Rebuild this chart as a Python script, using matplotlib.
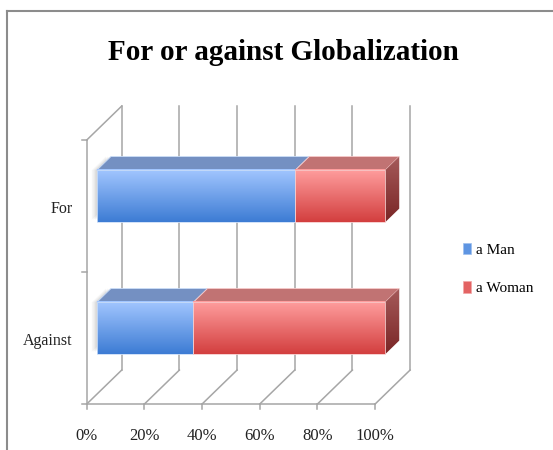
import numpy as np
import matplotlib
matplotlib.use("Agg")
import matplotlib.pyplot as plt
from matplotlib.patches import Polygon, Patch
from matplotlib.colors import to_rgb
from matplotlib.lines import Line2D

# Share of each group (percent of the answers in a category)
categories = ['Against', 'For']
man = [33.5, 68.8]
woman = [66.5, 31.2]
series_names = ['a Man', 'a Woman']
ticks = [0, 20, 40, 60, 80, 100]
tick_labels = ['0%', '20%', '40%', '60%', '80%', '100%']

SERIF = 'Liberation Serif'

fig = plt.figure(figsize=(5.53, 4.5), dpi=100)
ax = fig.add_axes([0, 0, 1, 1])
ax.set_axis_off()

# data space: x in percent, y in category units (0..2 = front wall height)
XLIM = (-30.07, 161.7)
YLIM = (-0.348, 3.061)

# depth of the 3d box (full wall) and where the bars sit inside it
DX, DY = 12.14, 0.2576
T0, T1 = 0.286, 0.69
HALF = 0.197
GRID = '#a6a6a6'


def off(x, y, t):
    return (x + DX * t, y + DY * t)


# back wall gridlines
for v in ticks:
    x0, y0 = off(v, 0, 1)
    x1, y1 = off(v, 2, 1)
    ax.plot([x0, x1], [y0, y1], color=GRID, lw=1.1, zorder=1)

# left wall
ax.plot([0, 0], [0, 2], color=GRID, lw=1.1, zorder=1)
ax.plot([0, DX], [2, 2 + DY], color=GRID, lw=1.1, zorder=1)
for k in range(3):
    ax.plot([-1.7, 0], [k, k], color=GRID, lw=1.1, zorder=1)

# floor
ax.plot([0, 100], [0, 0], color=GRID, lw=1.1, zorder=1)
for v in ticks:
    ax.plot([v, v + DX], [0, DY], color=GRID, lw=1.1, zorder=1)
    ax.plot([v, v], [0, -0.038], color=GRID, lw=1.1, zorder=1)


def gradient(extent, c_top, c_bot, clip=None, z=3):
    top = np.array(to_rgb(c_top))
    bot = np.array(to_rgb(c_bot))
    f = np.linspace(0, 1, 64)[:, None]
    img = (top * (1 - f) + bot * f)[:, None, :]
    im = ax.imshow(img, extent=extent, aspect='auto', origin='upper',
                   interpolation='bilinear', zorder=z)
    if clip is not None:
        im.set_clip_path(clip)
    return im


front_cols = {'a Man': ('#a2c6ff', '#3d7cd4'), 'a Woman': ('#ff9e9e', '#d33f3f')}
top_cols = {'a Man': '#7490c2', 'a Woman': '#c17373'}
side_cols = ('#a55a5a', '#7a2626')
edge_cols = {'a Man': '#c9dcf7', 'a Woman': '#f6c8c8'}

for i, cat in enumerate(categories):
    c = i + 0.5
    lo, hi = c - HALF, c + HALF
    segments = [('a Man', 0, man[i]), ('a Woman', man[i], man[i] + woman[i])]

    # soft shadow at the left end of the bar
    for k, a in enumerate([0.10, 0.08, 0.06]):
        s = 0.5 + k * 0.6
        pts = [off(-s, lo + 0.02, T0), off(-s, hi, T0),
               off(-s, hi, T1), off(-s, lo + 0.02, T1)]
        ax.add_patch(Polygon(pts, closed=True, facecolor='#606060',
                             edgecolor='none', alpha=a, zorder=2))

    for name, a, b in segments:
        # top face
        pts = [off(a, hi, T0), off(b, hi, T0), off(b, hi, T1), off(a, hi, T1)]
        ax.add_patch(Polygon(pts, closed=True, facecolor=top_cols[name],
                             edgecolor=edge_cols[name], lw=0.6, zorder=3))
        # front face
        fx0, fy0 = off(a, lo, T0)
        fx1, fy1 = off(b, hi, T0)
        gradient([fx0, fx1, fy0, fy1], *front_cols[name], z=4)
        ax.add_patch(Polygon([(fx0, fy0), (fx1, fy0), (fx1, fy1), (fx0, fy1)],
                             closed=True, facecolor='none',
                             edgecolor=edge_cols[name], lw=0.6, zorder=5))

    # right end face
    end = man[i] + woman[i]
    pts = [off(end, lo, T0), off(end, lo, T1), off(end, hi, T1), off(end, hi, T0)]
    poly = Polygon(pts, closed=True, facecolor='none', edgecolor='none', zorder=3)
    ax.add_patch(poly)
    ex0, ey0 = off(end, lo, T0)
    ex1, ey1 = off(end, hi, T1)
    gradient([ex0, ex1, ey0, ey1], side_cols[0], side_cols[1], clip=poly, z=3)

ax.set_xlim(*XLIM)
ax.set_ylim(*YLIM)

# value axis labels
for v, lab in zip(ticks, tick_labels):
    ax.text(v, -0.245, lab, ha='center', va='center', fontsize=12,
            family=SERIF, color='#222222')

# category labels
for i, cat in enumerate(categories):
    ax.text(-4.9, i + 0.48, cat, ha='right', va='center', fontsize=11.5,
            family=SERIF, color='#222222')

fig.text(0.512, 1 - 53 / 450, 'For or against Globalization', ha='center',
         va='center', fontsize=21, fontweight='bold', family=SERIF)

handles = [Patch(facecolor='#5e95e2', edgecolor='#9fc0ee', lw=0.5),
           Patch(facecolor='#e36363', edgecolor='#f2a8a8', lw=0.5)]
fig.legend(handles, series_names, loc='center left',
           bbox_to_anchor=(449 / 553, 1 - 269 / 450), frameon=False,
           handlelength=0.55, handleheight=0.8, handletextpad=0.35,
           labelspacing=1.6, prop={'family': SERIF, 'size': 11})

# chart frame (top and left edges)
fig.add_artist(Line2D([7.3 / 553, 1], [1 - 10.7 / 450] * 2, color='#8c8c8c',
                      lw=1.5, transform=fig.transFigure))
fig.add_artist(Line2D([7.3 / 553] * 2, [0, 1 - 10.7 / 450], color='#8c8c8c',
                      lw=1.5, transform=fig.transFigure))

fig.savefig('out.png', dpi=100)
